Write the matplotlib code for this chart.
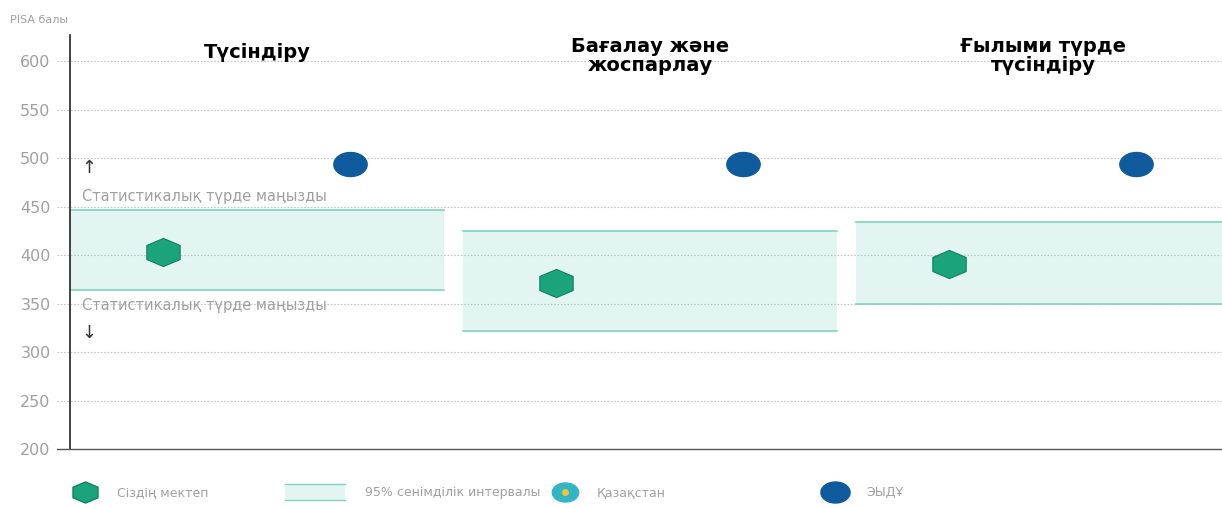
import matplotlib
matplotlib.use("Agg")
import numpy as np
import matplotlib.pyplot as plt
from matplotlib.path import Path
from matplotlib.lines import Line2D
from matplotlib.patches import Rectangle

# data
panels = ['Түсіндіру', 'Бағалау және\nжоспарлау', 'Ғылыми түрде\nтүсіндіру']
school = [403, 371, 391]
ci_low = [364, 322, 350]
ci_high = [447, 425, 434]
oecd = [494, 494, 494]
yticks = [200, 250, 300, 350, 400, 450, 500, 550, 600]
legend_labels = ['Сіздің мектеп', '95% сенімділік интервалы', 'Қазақстан', 'ЭЫДҰ']

green = '#1ba37b'
green_edge = '#12805e'
blue = '#0e5a9c'
band_fill = '#e2f5f1'
band_edge = '#7dd3bf'
grey = '#a0a0a0'

plt.rcParams['font.family'] = ['DejaVu Sans']

# stretched marker shapes (the picture is a bit wide)
ang = np.linspace(0, 2 * np.pi, 7)[:-1] + np.pi / 2
hex_verts = np.column_stack([1.3 * np.cos(ang), 0.95 * np.sin(ang)])
hex_marker = Path(np.vstack([hex_verts, hex_verts[:1]]), closed=True)
t = np.linspace(0, 2 * np.pi, 60)
ell_marker = Path(np.column_stack([np.cos(t), 0.72 * np.sin(t)]), closed=True)

fig = plt.figure(figsize=(12.22, 5.08), dpi=100)
ax = fig.add_axes([0.0573, 0.116, 0.9427, 0.815])
ax.set_xlim(0, 2.931)
ax.set_ylim(200, 627)

band_w = 0.952
x0 = np.arange(len(panels))
for i in range(len(panels)):
    ax.add_patch(Rectangle((x0[i], ci_low[i]), band_w, ci_high[i] - ci_low[i],
                           facecolor=band_fill, edgecolor='none', zorder=1))
    ax.plot([x0[i], x0[i] + band_w], [ci_high[i]] * 2, color=band_edge, lw=1.2, zorder=2)
    ax.plot([x0[i], x0[i] + band_w], [ci_low[i]] * 2, color=band_edge, lw=1.2, zorder=2)

# dotted grid lines running a little left of the axis
for y in yticks[1:]:
    ax.plot([-0.011, 1], [y, y], transform=ax.get_yaxis_transform(), color='#c4c4c4',
            lw=0.8, ls=(0, (1.5, 1.5)), clip_on=False, zorder=1.5)
ax.plot([-0.011, 1], [200, 200], transform=ax.get_yaxis_transform(), color='#555555',
        lw=1, clip_on=False, zorder=3)

ax.plot(x0 + 0.237, school, ls='none', marker=hex_marker, markersize=24,
        markerfacecolor=green, markeredgecolor=green_edge, markeredgewidth=0.8, zorder=5)
ax.plot(x0 + 0.712, oecd, ls='none', marker=ell_marker, markersize=24,
        markerfacecolor=blue, markeredgecolor=blue, zorder=5)

for i, title in enumerate(panels):
    ax.text(x0[i] + 0.476, 609 if '\n' not in title else 605, title, ha='center',
            va='center', fontsize=14, fontweight='bold', color='black', linespacing=1.0)

# significance notes
ax.text(0.03, 490, '↑', fontsize=13, color='#333333', va='center', ha='left')
ax.text(0.03, 461, 'Статистикалық түрде маңызды', fontsize=10.5, color=grey, va='center')
ax.text(0.03, 348, 'Статистикалық түрде маңызды', fontsize=10.5, color=grey, va='center')
ax.text(0.03, 320, '↓', fontsize=13, color='#333333', va='center', ha='left')

for s in ['top', 'right', 'bottom']:
    ax.spines[s].set_visible(False)
ax.spines['left'].set_color('#222222')
ax.spines['left'].set_linewidth(1.2)
ax.set_xticks([])
ax.set_yticks(yticks)
ax.tick_params(axis='y', length=0, pad=14, labelsize=11.5, labelcolor=grey)

fig.text(0.008, 0.96, 'PISA балы', fontsize=8, color=grey, va='center')

# legend, laid out by hand
ly = 0.031
fs = 9
fig.add_artist(Line2D([85 / 1222], [ly], marker=hex_marker, markersize=18, ls='none',
                      markerfacecolor=green, markeredgecolor=green_edge, transform=fig.transFigure))
fig.text(117 / 1222, ly, legend_labels[0], fontsize=fs, color=grey, va='center')
fig.add_artist(Rectangle((285 / 1222, ly - 0.016), 60 / 1222, 0.032, facecolor=band_fill,
                         edgecolor='none', transform=fig.transFigure))
fig.add_artist(Line2D([285 / 1222, 345 / 1222], [ly + 0.016] * 2, color=band_edge, lw=1,
                      transform=fig.transFigure))
fig.add_artist(Line2D([285 / 1222, 345 / 1222], [ly - 0.016] * 2, color=band_edge, lw=1,
                      transform=fig.transFigure))
fig.text(365 / 1222, ly, legend_labels[1], fontsize=fs, color=grey, va='center')
fig.add_artist(Line2D([565 / 1222], [ly], marker=ell_marker, markersize=19, ls='none',
                      markerfacecolor='#35b4c4', markeredgecolor='#35b4c4', transform=fig.transFigure))
fig.add_artist(Line2D([565 / 1222], [ly], marker='o', markersize=5, ls='none',
                      markerfacecolor='#e8c53a', markeredgecolor='none', transform=fig.transFigure))
fig.text(597 / 1222, ly, legend_labels[2], fontsize=fs, color=grey, va='center')
fig.add_artist(Line2D([835 / 1222], [ly], marker=ell_marker, markersize=21, ls='none',
                      markerfacecolor=blue, markeredgecolor=blue, transform=fig.transFigure))
fig.text(866 / 1222, ly, legend_labels[3], fontsize=fs, color=grey, va='center')

fig.savefig('out.png', dpi=100)
